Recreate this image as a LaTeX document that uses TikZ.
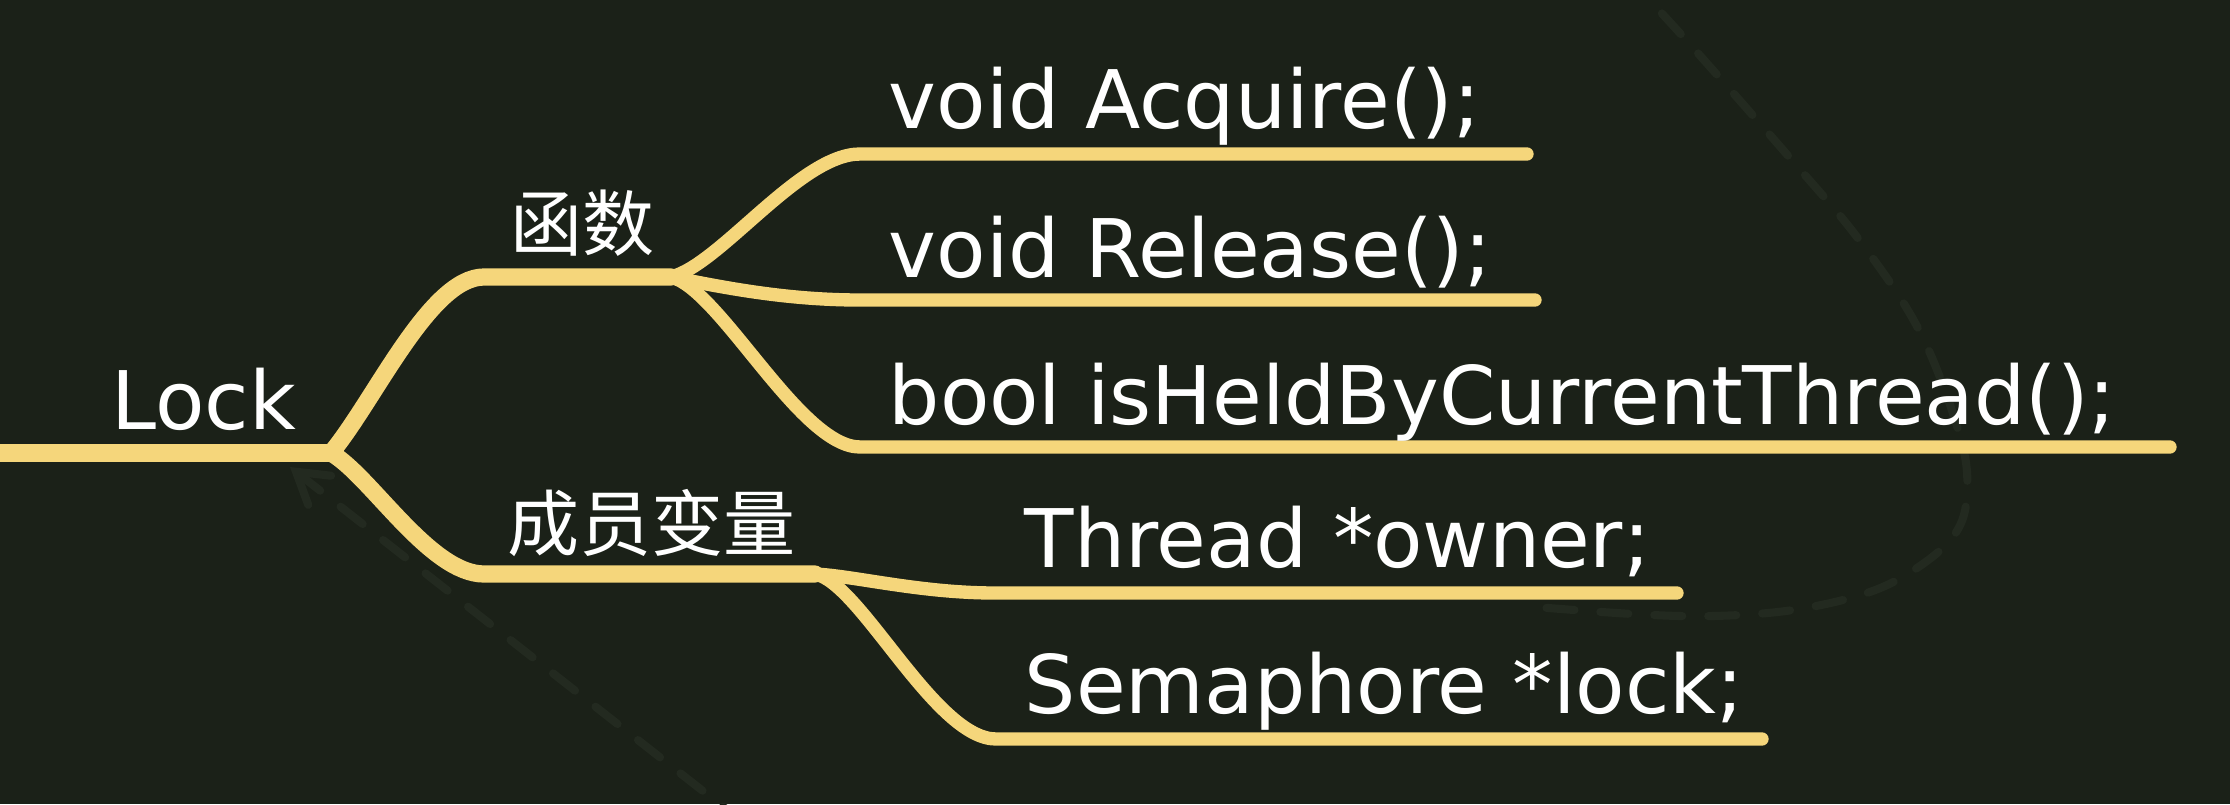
\documentclass[tikz,border=0pt]{standalone}
\usepackage{fontspec}
\setmainfont{DejaVu Sans}
\newfontfamily\cjk{Noto Sans CJK SC}
\usetikzlibrary{arrows.meta}
\definecolor{board}{HTML}{1B2118}
\definecolor{chalk}{HTML}{F5D67B}
\definecolor{ghost}{HTML}{232A20}
\tikzset{
  trunk/.style={draw=chalk, line width=4.9pt, line cap=round},
  twig/.style={draw=chalk, line width=3.8pt, line cap=round},
  hand/.style={anchor=base west, inner sep=0pt, text=white, font=\fontsize{23}{27}\selectfont},
  hanzi/.style={hand, font=\cjk\fontsize{20.5}{24}\selectfont},
  ghostline/.style={draw=ghost, line width=2.3pt, line cap=round, dash pattern=on 0.28cm off 0.26cm}
}

\begin{document}
\begin{tikzpicture}
\useasboundingbox (0,0) rectangle (22.30,8.04);
\fill[board] (0,0) rectangle (22.30,8.04);

\coordinate (arc-in) at (16.25,8.30);
\coordinate (arc-out) at (15.23,1.98);
\draw[ghostline] plot[smooth, tension=0.6] coordinates {(arc-in) (16.87,7.63) (17.90,6.46) (18.60,5.63) (19.20,4.72) (19.60,3.68) (19.67,3.10) (19.55,2.70) (19.17,2.36) (18.67,2.11) (17.93,1.94) (17.13,1.88) (16.33,1.90) (arc-out)};
\coordinate (tail) at (7.45,-0.20);
\coordinate (hint) at (2.90,3.37);
\draw[ghostline, -{Straight Barb[length=0.3cm, width=0.37cm, line cap=round]}] (tail) -- (hint);

\coordinate (root-l) at (-0.10,3.51);
\coordinate (root-r) at (3.31,3.51);
\coordinate (fn-l) at (4.84,5.27);
\coordinate (fn-r) at (6.71,5.27);
\coordinate (mv-l) at (4.84,2.30);
\coordinate (mv-r) at (8.15,2.30);
\coordinate (acq-l) at (8.60,6.50);
\coordinate (acq-r) at (15.27,6.50);
\coordinate (rel-l) at (8.60,5.04);
\coordinate (rel-r) at (15.35,5.04);
\coordinate (held-l) at (8.60,3.57);
\coordinate (held-r) at (21.70,3.57);
\coordinate (own-l) at (9.95,2.11);
\coordinate (own-r) at (16.77,2.11);
\coordinate (sem-l) at (9.96,0.65);
\coordinate (sem-r) at (17.62,0.65);

\draw[trunk] (root-l) -- (root-r);
\draw[trunk] (root-r) .. controls (3.75,4.04) and (4.30,5.27) .. (fn-l) -- (fn-r);
\draw[trunk] (root-r) .. controls (3.70,3.29) and (4.30,2.30) .. (mv-l) -- (mv-r);
\draw[twig] (fn-r) .. controls (7.20,5.39) and (8.00,6.50) .. (acq-l) -- (acq-r);
\draw[twig] (fn-r) .. controls (7.30,5.15) and (7.90,5.04) .. (rel-l) -- (rel-r);
\draw[twig] (fn-r) .. controls (7.20,5.15) and (8.00,3.57) .. (held-l) -- (held-r);
\draw[twig] (mv-r) .. controls (8.55,2.28) and (9.20,2.11) .. (own-l) -- (own-r);
\draw[twig] (mv-r) .. controls (8.60,2.22) and (9.35,0.65) .. (sem-l) -- (sem-r);

\node[hand] (lock) at (1.11,3.75) {Lock};
\node[hanzi] (fn) at (5.10,5.54) {函数};
\node[hanzi] (mv) at (5.07,2.54) {成员变量};
\node[hand] (acq) at (8.88,6.76) {void Acquire();};
\node[hand] (rel) at (8.88,5.27) {void Release();};
\node[hand] (held) at (8.88,3.80) {bool isHeldByCurrentThread();};
\node[hand] (own) at (10.24,2.37) {Thread *owner;};
\node[hand] (sem) at (10.24,0.91) {Semaphore *lock;};
\end{tikzpicture}
\end{document}
